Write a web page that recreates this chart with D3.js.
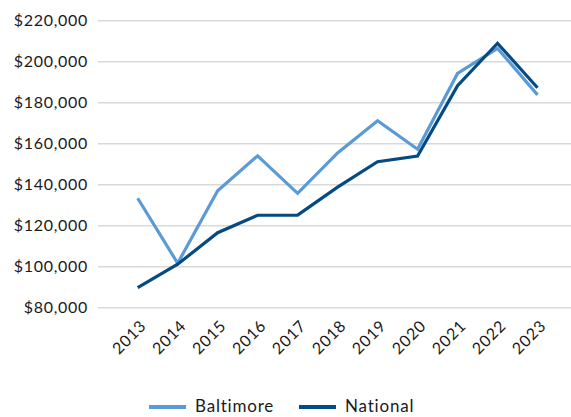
<!DOCTYPE html>
<html><head><meta charset="utf-8">
<script src="https://cdn.jsdelivr.net/npm/d3@7"></script>
<style>
body{margin:0;background:#fff;}
svg{display:block;}
text{font-family:Lato, "Noto Sans", sans-serif;fill:#1a1a1a;}
</style></head>
<body><svg id="chart" width="571" height="417"></svg>
<script>
const years = ["2013","2014","2015","2016","2017","2018","2019","2020","2021","2022","2023"];
const baltimore = [133400,101700,137000,154100,135800,155500,171200,157300,194300,206500,183800];
const national = [89800,101200,116600,125100,125200,138800,151200,154000,188300,209000,187300];
const yTicks = [80000,100000,120000,140000,160000,180000,200000,220000];
const seriesNames = ["Baltimore","National"];
const colors = ["#5B9BD5","#044A83"];

const svg = d3.select("#chart");
const x = d3.scalePoint().domain(years).range([137.7,537.5]);
const y = d3.scaleLinear().domain([80000,220000]).range([307.7,20.7]);

// gridlines
svg.append("g").selectAll("line").data(yTicks).join("line")
  .attr("x1",98).attr("x2",571)
  .attr("y1",d=>y(d)).attr("y2",d=>y(d))
  .attr("stroke","#d9d9d9").attr("stroke-width",1.5);

// y axis labels
const yAxis = d3.axisLeft(y).tickValues(yTicks).tickSize(0).tickPadding(0)
  .tickFormat(d=>"$"+d3.format(",")(d));
const gy = svg.append("g").attr("transform","translate(88,0)").call(yAxis);
gy.select(".domain").remove();
gy.selectAll("text").attr("font-size",16).attr("font-family","Lato, sans-serif").attr("fill","#1a1a1a").attr("letter-spacing","0.7px");

// x axis labels
const xAxis = d3.axisBottom(x).tickSize(0).tickPadding(0);
const gx = svg.append("g").attr("transform","translate(0,318)").call(xAxis);
gx.select(".domain").remove();
gx.selectAll("text")
  .attr("font-size",16).attr("font-family","Lato, sans-serif").attr("fill","#1a1a1a").attr("letter-spacing","0.7px")
  .attr("text-anchor","end").attr("dy","0.35em").attr("dx","0")
  .attr("transform","translate(5,5) rotate(-45)");

// lines
const line = d3.line().x((d,i)=>x(years[i])).y(d=>y(d));
[baltimore,national].forEach((s,i)=>{
  svg.append("path").datum(s).attr("d",line)
    .attr("fill","none").attr("stroke",colors[i]).attr("stroke-width",3.2)
    .attr("stroke-linejoin","miter").attr("stroke-linecap","butt");
});

// legend
const legX = [149,299];
seriesNames.forEach((n,i)=>{
  const g = svg.append("g").attr("transform",`translate(${legX[i]},407)`);
  g.append("line").attr("x1",0).attr("x2",37).attr("y1",0).attr("y2",0)
    .attr("stroke",colors[i]).attr("stroke-width",4);
  g.append("text").attr("x",46).attr("y",0).attr("dy","0.3em")
    .attr("font-size",17).attr("letter-spacing","0.8px").text(n);
});
</script></body></html>
